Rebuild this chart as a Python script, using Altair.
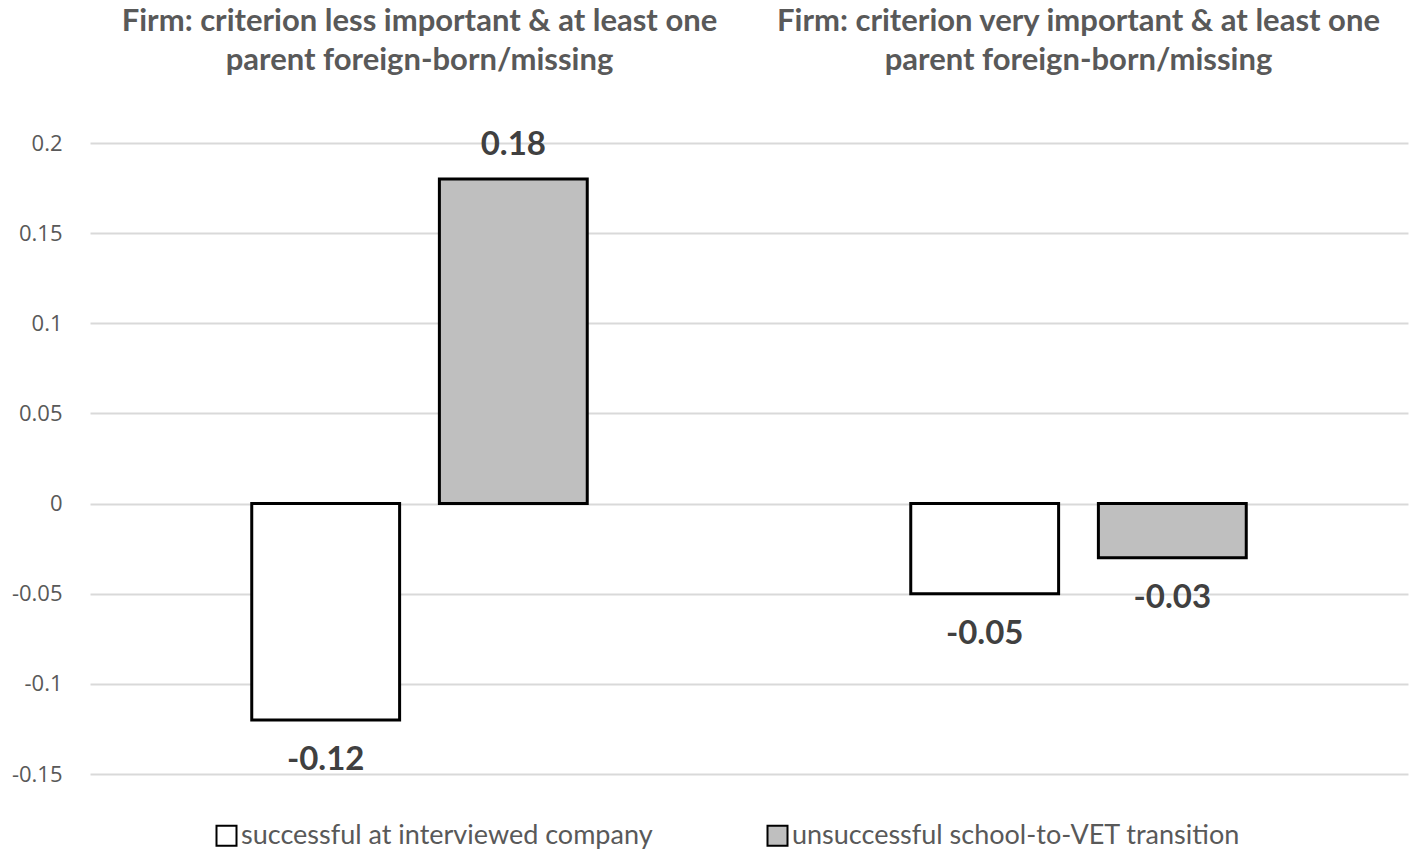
import altair as alt
import pandas as pd

group_keys = ["less", "very"]
group_titles = [
    "Firm: criterion less important & at least one\nparent foreign-born/missing",
    "Firm: criterion very important & at least one\nparent foreign-born/missing",
]
series = ["successful at interviewed company", "unsuccessful school-to-VET transition"]
values_less = [-0.12, 0.18]
values_very = [-0.05, -0.03]
y_ticks = [-0.15, -0.1, -0.05, 0, 0.05, 0.1, 0.15, 0.2]

rows = []
for g, vals in zip(group_keys, [values_less, values_very]):
    for s, v in zip(series, vals):
        rows.append({"group": g, "series": s, "value": v, "label": f"{v:.2f}"})
df = pd.DataFrame(rows)
titles_df = pd.DataFrame({"group": group_keys, "title": group_titles})

x_enc = alt.X("group:N", scale=alt.Scale(domain=group_keys, paddingInner=0, paddingOuter=0), axis=None)
xo_enc = alt.XOffset("series:N", scale=alt.Scale(domain=series, paddingInner=0.212, paddingOuter=0.862))
y_enc = alt.Y(
    "value:Q",
    scale=alt.Scale(domain=[-0.15, 0.2], nice=False, zero=False),
    axis=alt.Axis(
        values=y_ticks, title=None, ticks=False, domain=False, labelPadding=28,
        labelFontSize=22, labelFont="Open Sans", labelColor="#595959",
        gridColor="#d9d9d9", gridWidth=2, labelExpr="'' + datum.value",
    ),
)

bars = alt.Chart(df).mark_bar(stroke="black", strokeWidth=3).encode(
    x=x_enc,
    xOffset=xo_enc,
    y=y_enc,
    fill=alt.Fill(
        "series:N",
        scale=alt.Scale(domain=series, range=["#ffffff", "#bfbfbf"]),
        legend=alt.Legend(
            orient="none", legendX=123, legendY=679, direction="horizontal", title=None,
            symbolType="square", symbolSize=400, symbolStrokeColor="black", symbolStrokeWidth=2,
            labelFontSize=27, labelFont="Lato", labelColor="#595959", columnPadding=110,
            labelOffset=1, padding=0, symbolOpacity=1, labelLimit=0,
        ),
    ),
)

label_style = dict(fontSize=33, font="Lato", fontWeight="bold", color="#404040", baseline="middle")
pos_labels = alt.Chart(df).transform_filter("datum.value >= 0").mark_text(dy=-34, **label_style).encode(
    x=x_enc, xOffset=xo_enc, y=alt.Y("value:Q"), text="label:N"
)
neg_labels = alt.Chart(df).transform_filter("datum.value < 0").mark_text(dy=40, **label_style).encode(
    x=x_enc, xOffset=xo_enc, y=alt.Y("value:Q"), text="label:N"
)

titles = alt.Chart(titles_df).mark_text(
    lineBreak="\n", fontSize=31, font="Lato", fontWeight="bold", color="#595959",
    baseline="alphabetic", lineHeight=39,
).encode(x=alt.X("group:N"), y=alt.value(-112), text="title:N")

chart = alt.layer(bars, pos_labels, neg_labels, titles).properties(
    width=1318, height=631,
    padding={"left": 82, "top": 135, "right": 3, "bottom": 75},
    autosize=alt.AutoSizeParams(type="none"),
).configure_view(stroke=None)

chart.save("out.html", embed_options={"renderer": "svg", "actions": False})
